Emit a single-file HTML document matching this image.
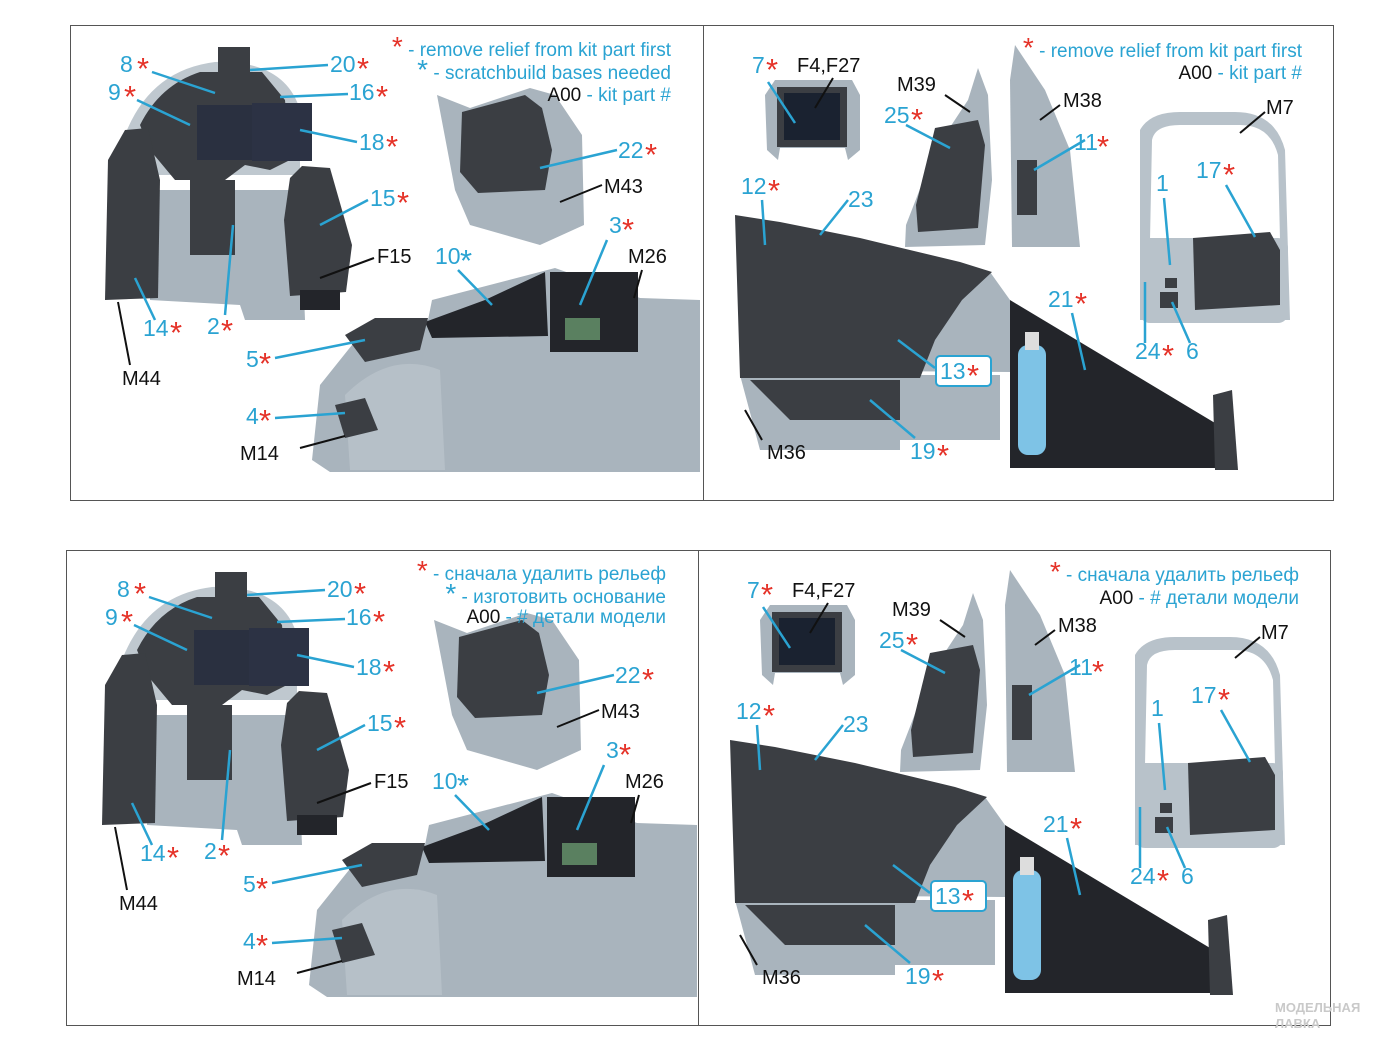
<!DOCTYPE html>
<html><head><meta charset="utf-8"><style>
html,body{margin:0;padding:0;background:#fff}
svg{display:block}
text{font-family:"Liberation Sans","DejaVu Sans",sans-serif}
.b{fill:#2aa3d2;font-size:23px}
.k{fill:#111;font-size:20px}
.r{fill:#e53228}
text[font-size="26"]{font-size:31px;transform:translateY(5px)}
.lg{font-size:19px;fill:#2aa3d2}
.lg .r{font-size:28px}
.lg .kk{fill:#111}
.lb{stroke:#2aa3d2;stroke-width:2.5;fill:none}
.lk{stroke:#111;stroke-width:2;fill:none}
.g{fill:#a9b4bd}
.g2{fill:#bfc8cf}
.d{fill:#3b3e43}
.d2{fill:#23252a}
</style></head><body>
<svg width="1400" height="1050" viewBox="0 0 1400 1050" xmlns="http://www.w3.org/2000/svg">
<rect x="70.5" y="25.5" width="1263" height="475" fill="none" stroke="#555" stroke-width="1"/>
<line x1="703.5" y1="25" x2="703.5" y2="500" stroke="#555"/>
<rect x="66.5" y="550.5" width="1264" height="475" fill="none" stroke="#555" stroke-width="1"/>
<line x1="698.5" y1="550" x2="698.5" y2="1025" stroke="#555"/>

<!-- ================= TOP LEFT ================= -->
<g>
<path class="g2" d="M125,135 Q150,70 215,62 Q285,60 300,110 L300,175 L125,175Z"/>
<path class="g" d="M150,190 L300,190 L305,320 L245,320 L240,305 L150,300Z"/>
<path class="d" d="M140,125 Q160,85 200,72 L262,72 L285,100 L290,160 L270,170 L245,165 L225,180 L175,180 L150,150Z"/>
<rect x="197" y="105" width="55" height="55" fill="#2a3040"/>
<rect x="252" y="103" width="60" height="58" fill="#2c3244"/>
<rect x="218" y="47" width="32" height="40" class="d"/>
<path class="d" d="M105,300 L108,160 L125,130 L148,128 L160,180 L158,298Z"/>
<rect x="190" y="180" width="45" height="75" class="d"/>
<path class="d" d="M290,178 L302,166 L330,168 L352,245 L346,292 L290,296 L284,220Z"/>
<rect x="300" y="290" width="40" height="20" class="d2"/>
<path class="g" d="M437,95 L470,108 L530,88 L555,95 L582,135 L584,225 L540,245 L470,225 L455,190Z"/>
<path class="d" d="M462,112 L525,95 L542,108 L552,150 L545,190 L478,193 L460,172Z"/>
<path class="g" d="M312,460 L320,385 L360,335 L428,320 L432,300 L555,268 L640,298 L700,300 L700,472 L330,472Z"/>
<path class="g2" d="M345,395 Q390,350 440,370 L445,470 L350,470Z" opacity=".6"/>
<path class="d2" d="M425,322 L485,300 L545,272 L548,336 L432,338Z"/>
<rect x="550" y="272" width="88" height="80" class="d2"/>
<rect x="565" y="318" width="35" height="22" fill="#5a8060"/>
<path class="d" d="M345,335 L375,318 L428,318 L420,350 L365,362Z"/>
<path class="d" d="M335,405 L365,398 L378,430 L345,438Z"/>
<text x="671" y="56" text-anchor="end" class="lg"><tspan class="r">*</tspan> - remove relief from kit part first</text>
<text x="671" y="79" text-anchor="end" class="lg"><tspan font-size="28">*</tspan> - scratchbuild bases needed</text>
<text x="671" y="101" text-anchor="end" class="lg"><tspan class="kk">A00</tspan> - kit part #</text>
<text x="120" y="72" class="b">8</text><text x="137" y="74" class="r" font-size="26">*</text>
<text x="108" y="100" class="b">9</text><text x="124" y="102" class="r" font-size="26">*</text>
<text x="330" y="72" class="b">20</text><text x="357" y="74" class="r" font-size="26">*</text>
<text x="349" y="100" class="b">16</text><text x="376" y="102" class="r" font-size="26">*</text>
<text x="359" y="150" class="b">18</text><text x="386" y="152" class="r" font-size="26">*</text>
<text x="618" y="158" class="b">22</text><text x="645" y="160" class="r" font-size="26">*</text>
<text x="604" y="193" class="k">M43</text>
<text x="370" y="206" class="b">15</text><text x="397" y="208" class="r" font-size="26">*</text>
<text x="377" y="263" class="k">F15</text>
<text x="609" y="233" class="b">3</text><text x="622" y="235" class="r" font-size="26">*</text>
<text x="628" y="263" class="k">M26</text>
<text x="435" y="264" class="b">10</text><text x="460" y="266" class="b" font-size="26">*</text>
<text x="143" y="336" class="b">14</text><text x="170" y="338" class="r" font-size="26">*</text>
<text x="207" y="334" class="b">2</text><text x="221" y="336" class="r" font-size="26">*</text>
<text x="246" y="367" class="b">5</text><text x="259" y="369" class="r" font-size="26">*</text>
<text x="122" y="385" class="k">M44</text>
<text x="246" y="424" class="b">4</text><text x="259" y="426" class="r" font-size="26">*</text>
<text x="240" y="460" class="k">M14</text>
<path class="lb" d="M152,72 L215,93 M137,100 L190,125 M328,65 L250,70 M348,94 L280,97 M357,142 L300,130 M617,150 L540,168 M368,200 L320,225 M607,240 L580,305 M458,270 L492,305 M155,320 L135,278 M225,315 L233,225 M275,358 L365,340 M275,418 L345,413"/>
<path class="lk" d="M602,185 L560,202 M374,258 L320,278 M642,270 L634,298 M130,365 L118,302 M300,448 L345,436"/>
</g>

<!-- ================= TOP RIGHT ================= -->
<g>
<path class="g" d="M765,95 L775,80 L852,80 L860,95 L860,150 L848,160 L845,148 L780,148 L778,160 L767,150Z"/>
<rect x="777" y="87" width="70" height="60" class="d"/>
<rect x="784" y="93" width="56" height="47" fill="#1a2230"/>
<path class="g" d="M978,68 L988,95 L992,180 L985,245 L905,247 L906,225 L935,150 L968,100Z"/>
<path class="d" d="M935,128 L978,120 L985,145 L978,228 L918,232 L916,205Z"/>
<path class="g" d="M1015,45 L1045,90 L1070,150 L1080,247 L1012,247 L1010,80Z"/>
<rect x="1017" y="160" width="20" height="55" class="d"/>
<path d="M1140,320 L1140,130 Q1150,112 1180,112 L1235,112 Q1275,112 1285,150 L1290,320 Z M1150,240 L1280,240 L1278,155 Q1270,125 1240,125 L1180,125 Q1155,125 1152,140Z" fill="#b8c2ca" fill-rule="evenodd"/>
<rect x="1140" y="238" width="148" height="85" rx="10" fill="#b8c2ca"/>
<path class="d" d="M1193,238 L1270,232 L1280,250 L1280,305 L1195,310Z"/>
<rect x="1165" y="278" width="12" height="10" class="d"/>
<rect x="1160" y="292" width="18" height="16" class="d"/>
<path class="g" d="M740,370 L1010,372 L1010,300 L990,272 L960,266 L945,300 L930,345 Z"/>
<path class="g" d="M740,375 L1000,375 L1000,440 L900,440 L900,450 L760,450Z"/>
<path class="d" d="M735,215 L780,222 L860,238 L960,262 L992,272 L962,300 L935,340 L920,378 L740,378Z"/>
<path class="d" d="M750,380 L900,380 L900,420 L790,420Z"/>
<path class="d2" d="M1010,300 L1060,330 L1230,432 L1230,468 L1010,468Z"/>
<rect x="1018" y="345" width="28" height="110" rx="10" fill="#7ec3e6"/>
<rect x="1025" y="332" width="14" height="18" fill="#ddd"/>
<path class="d" d="M1213,395 L1232,390 L1238,470 L1215,470Z"/>
<text x="1302" y="57" text-anchor="end" class="lg"><tspan class="r">*</tspan> - remove relief from kit part first</text>
<text x="1302" y="79" text-anchor="end" class="lg"><tspan class="kk">A00</tspan> - kit part #</text>
<text x="752" y="73" class="b">7</text><text x="766" y="75" class="r" font-size="26">*</text>
<text x="797" y="72" class="k">F4,F27</text>
<text x="897" y="91" class="k">M39</text>
<text x="1063" y="107" class="k">M38</text>
<text x="1266" y="114" class="k">M7</text>
<text x="884" y="123" class="b">25</text><text x="911" y="125" class="r" font-size="26">*</text>
<text x="1074" y="150" class="b">11</text><text x="1097" y="152" class="r" font-size="26">*</text>
<text x="1196" y="178" class="b">17</text><text x="1223" y="180" class="r" font-size="26">*</text>
<text x="1156" y="191" class="b">1</text>
<text x="741" y="194" class="b">12</text><text x="768" y="196" class="r" font-size="26">*</text>
<text x="848" y="207" class="b">23</text>
<text x="1048" y="307" class="b">21</text><text x="1075" y="309" class="r" font-size="26">*</text>
<text x="1135" y="359" class="b">24</text><text x="1162" y="361" class="r" font-size="26">*</text>
<text x="1186" y="359" class="b">6</text>
<rect x="936" y="356" width="55" height="30" rx="4" fill="#fff" stroke="#2aa3d2" stroke-width="2"/>
<text x="940" y="379" class="b">13</text><text x="967" y="381" class="r" font-size="26">*</text>
<text x="767" y="459" class="k">M36</text>
<text x="910" y="459" class="b">19</text><text x="937" y="461" class="r" font-size="26">*</text>
<path class="lb" d="M768,82 L795,123 M906,125 L950,148 M1085,140 L1034,170 M1226,185 L1255,237 M1164,198 L1170,265 M762,200 L765,245 M848,200 L820,235 M1072,313 L1085,370 M1145,343 L1145,282 M1190,343 L1172,302 M935,368 L898,340 M915,438 L870,400"/>
<path class="lk" d="M833,78 L815,108 M945,95 L970,112 M1060,105 L1040,120 M1265,112 L1240,133 M762,440 L745,410"/>
</g>

<!-- ================= BOTTOM LEFT ================= -->
<g transform="translate(-3,525)">
<path class="g2" d="M125,135 Q150,70 215,62 Q285,60 300,110 L300,175 L125,175Z"/>
<path class="g" d="M150,190 L300,190 L305,320 L245,320 L240,305 L150,300Z"/>
<path class="d" d="M140,125 Q160,85 200,72 L262,72 L285,100 L290,160 L270,170 L245,165 L225,180 L175,180 L150,150Z"/>
<rect x="197" y="105" width="55" height="55" fill="#2a3040"/>
<rect x="252" y="103" width="60" height="58" fill="#2c3244"/>
<rect x="218" y="47" width="32" height="40" class="d"/>
<path class="d" d="M105,300 L108,160 L125,130 L148,128 L160,180 L158,298Z"/>
<rect x="190" y="180" width="45" height="75" class="d"/>
<path class="d" d="M290,178 L302,166 L330,168 L352,245 L346,292 L290,296 L284,220Z"/>
<rect x="300" y="290" width="40" height="20" class="d2"/>
<path class="g" d="M437,95 L470,108 L530,88 L555,95 L582,135 L584,225 L540,245 L470,225 L455,190Z"/>
<path class="d" d="M462,112 L525,95 L542,108 L552,150 L545,190 L478,193 L460,172Z"/>
<path class="g" d="M312,460 L320,385 L360,335 L428,320 L432,300 L555,268 L640,298 L700,300 L700,472 L330,472Z"/>
<path class="g2" d="M345,395 Q390,350 440,370 L445,470 L350,470Z" opacity=".6"/>
<path class="d2" d="M425,322 L485,300 L545,272 L548,336 L432,338Z"/>
<rect x="550" y="272" width="88" height="80" class="d2"/>
<rect x="565" y="318" width="35" height="22" fill="#5a8060"/>
<path class="d" d="M345,335 L375,318 L428,318 L420,350 L365,362Z"/>
<path class="d" d="M335,405 L365,398 L378,430 L345,438Z"/>
<text x="669" y="55" text-anchor="end" class="lg"><tspan class="r">*</tspan> - сначала удалить рельеф</text>
<text x="669" y="78" text-anchor="end" class="lg"><tspan font-size="28">*</tspan> - изготовить основание</text>
<text x="669" y="98" text-anchor="end" class="lg"><tspan class="kk">A00</tspan> - # детали модели</text>
<text x="120" y="72" class="b">8</text><text x="137" y="74" class="r" font-size="26">*</text>
<text x="108" y="100" class="b">9</text><text x="124" y="102" class="r" font-size="26">*</text>
<text x="330" y="72" class="b">20</text><text x="357" y="74" class="r" font-size="26">*</text>
<text x="349" y="100" class="b">16</text><text x="376" y="102" class="r" font-size="26">*</text>
<text x="359" y="150" class="b">18</text><text x="386" y="152" class="r" font-size="26">*</text>
<text x="618" y="158" class="b">22</text><text x="645" y="160" class="r" font-size="26">*</text>
<text x="604" y="193" class="k">M43</text>
<text x="370" y="206" class="b">15</text><text x="397" y="208" class="r" font-size="26">*</text>
<text x="377" y="263" class="k">F15</text>
<text x="609" y="233" class="b">3</text><text x="622" y="235" class="r" font-size="26">*</text>
<text x="628" y="263" class="k">M26</text>
<text x="435" y="264" class="b">10</text><text x="460" y="266" class="b" font-size="26">*</text>
<text x="143" y="336" class="b">14</text><text x="170" y="338" class="r" font-size="26">*</text>
<text x="207" y="334" class="b">2</text><text x="221" y="336" class="r" font-size="26">*</text>
<text x="246" y="367" class="b">5</text><text x="259" y="369" class="r" font-size="26">*</text>
<text x="122" y="385" class="k">M44</text>
<text x="246" y="424" class="b">4</text><text x="259" y="426" class="r" font-size="26">*</text>
<text x="240" y="460" class="k">M14</text>
<path class="lb" d="M152,72 L215,93 M137,100 L190,125 M328,65 L250,70 M348,94 L280,97 M357,142 L300,130 M617,150 L540,168 M368,200 L320,225 M607,240 L580,305 M458,270 L492,305 M155,320 L135,278 M225,315 L233,225 M275,358 L365,340 M275,418 L345,413"/>
<path class="lk" d="M602,185 L560,202 M374,258 L320,278 M642,270 L634,298 M130,365 L118,302 M300,448 L345,436"/>
</g>

<!-- ================= BOTTOM RIGHT ================= -->
<g transform="translate(-5,525)">
<path class="g" d="M765,95 L775,80 L852,80 L860,95 L860,150 L848,160 L845,148 L780,148 L778,160 L767,150Z"/>
<rect x="777" y="87" width="70" height="60" class="d"/>
<rect x="784" y="93" width="56" height="47" fill="#1a2230"/>
<path class="g" d="M978,68 L988,95 L992,180 L985,245 L905,247 L906,225 L935,150 L968,100Z"/>
<path class="d" d="M935,128 L978,120 L985,145 L978,228 L918,232 L916,205Z"/>
<path class="g" d="M1015,45 L1045,90 L1070,150 L1080,247 L1012,247 L1010,80Z"/>
<rect x="1017" y="160" width="20" height="55" class="d"/>
<path d="M1140,320 L1140,130 Q1150,112 1180,112 L1235,112 Q1275,112 1285,150 L1290,320 Z M1150,240 L1280,240 L1278,155 Q1270,125 1240,125 L1180,125 Q1155,125 1152,140Z" fill="#b8c2ca" fill-rule="evenodd"/>
<rect x="1140" y="238" width="148" height="85" rx="10" fill="#b8c2ca"/>
<path class="d" d="M1193,238 L1270,232 L1280,250 L1280,305 L1195,310Z"/>
<rect x="1165" y="278" width="12" height="10" class="d"/>
<rect x="1160" y="292" width="18" height="16" class="d"/>
<path class="g" d="M740,370 L1010,372 L1010,300 L990,272 L960,266 L945,300 L930,345 Z"/>
<path class="g" d="M740,375 L1000,375 L1000,440 L900,440 L900,450 L760,450Z"/>
<path class="d" d="M735,215 L780,222 L860,238 L960,262 L992,272 L962,300 L935,340 L920,378 L740,378Z"/>
<path class="d" d="M750,380 L900,380 L900,420 L790,420Z"/>
<path class="d2" d="M1010,300 L1060,330 L1230,432 L1230,468 L1010,468Z"/>
<rect x="1018" y="345" width="28" height="110" rx="10" fill="#7ec3e6"/>
<rect x="1025" y="332" width="14" height="18" fill="#ddd"/>
<path class="d" d="M1213,395 L1232,390 L1238,470 L1215,470Z"/>
<text x="1304" y="56" text-anchor="end" class="lg"><tspan class="r">*</tspan> - сначала удалить рельеф</text>
<text x="1304" y="79" text-anchor="end" class="lg"><tspan class="kk">A00</tspan> - # детали модели</text>
<text x="752" y="73" class="b">7</text><text x="766" y="75" class="r" font-size="26">*</text>
<text x="797" y="72" class="k">F4,F27</text>
<text x="897" y="91" class="k">M39</text>
<text x="1063" y="107" class="k">M38</text>
<text x="1266" y="114" class="k">M7</text>
<text x="884" y="123" class="b">25</text><text x="911" y="125" class="r" font-size="26">*</text>
<text x="1074" y="150" class="b">11</text><text x="1097" y="152" class="r" font-size="26">*</text>
<text x="1196" y="178" class="b">17</text><text x="1223" y="180" class="r" font-size="26">*</text>
<text x="1156" y="191" class="b">1</text>
<text x="741" y="194" class="b">12</text><text x="768" y="196" class="r" font-size="26">*</text>
<text x="848" y="207" class="b">23</text>
<text x="1048" y="307" class="b">21</text><text x="1075" y="309" class="r" font-size="26">*</text>
<text x="1135" y="359" class="b">24</text><text x="1162" y="361" class="r" font-size="26">*</text>
<text x="1186" y="359" class="b">6</text>
<rect x="936" y="356" width="55" height="30" rx="4" fill="#fff" stroke="#2aa3d2" stroke-width="2"/>
<text x="940" y="379" class="b">13</text><text x="967" y="381" class="r" font-size="26">*</text>
<text x="767" y="459" class="k">M36</text>
<text x="910" y="459" class="b">19</text><text x="937" y="461" class="r" font-size="26">*</text>
<path class="lb" d="M768,82 L795,123 M906,125 L950,148 M1085,140 L1034,170 M1226,185 L1255,237 M1164,198 L1170,265 M762,200 L765,245 M848,200 L820,235 M1072,313 L1085,370 M1145,343 L1145,282 M1190,343 L1172,302 M935,368 L898,340 M915,438 L870,400"/>
<path class="lk" d="M833,78 L815,108 M945,95 L970,112 M1060,105 L1040,120 M1265,112 L1240,133 M762,440 L745,410"/>
</g>
<text x="1275" y="1012" fill="#c9c9c9" font-size="13" font-weight="bold">МОДЕЛЬНАЯ</text>
<text x="1275" y="1028" fill="#c9c9c9" font-size="13" font-weight="bold">ЛАВКА</text>
</svg>
</body></html>
